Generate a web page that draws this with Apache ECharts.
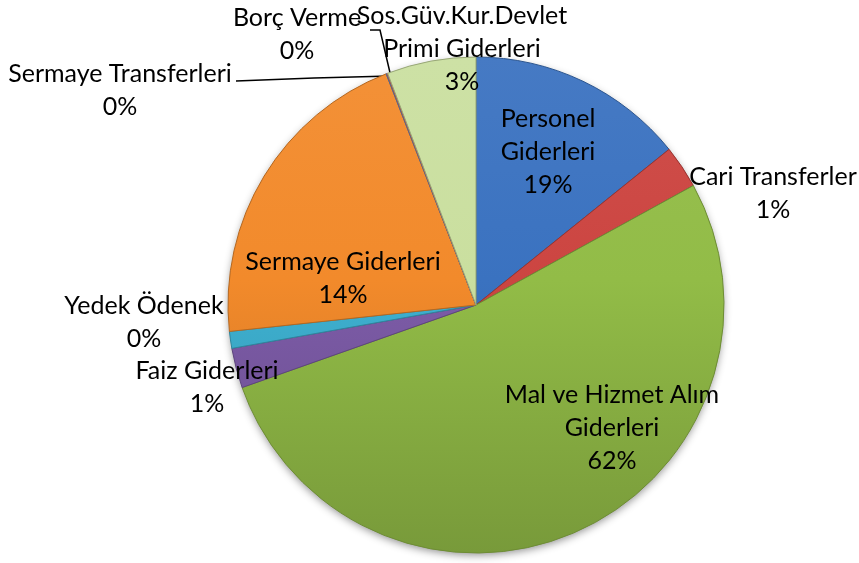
<!DOCTYPE html>
<html>
<head>
<meta charset="utf-8">
<script src="https://cdn.jsdelivr.net/npm/echarts@6/dist/echarts.min.js"></script>
<style>
  html, body { margin: 0; padding: 0; background: #fff; }
  #main { width: 859px; height: 563px; }
</style>
</head>
<body>
<div id="main"></div>
<script>
// kategoriler
const categories = [
  'Personel\nGiderleri',
  'Cari Transferler',
  'Mal ve Hizmet Alım\nGiderleri',
  'Faiz Giderleri',
  'Yedek Ödenek',
  'Sermaye Giderleri',
  'Sermaye Transferleri',
  'Borç Verme',
  'Sos.Güv.Kur.Devlet\nPrimi Giderleri'
];
// dilim büyüklükleri (resimden okunan açılar, %)
const sliceValues = [14.2, 2.8, 52.6, 2.6, 1.1, 20.8, 0.05, 0.05, 5.8];
// etiketlerde yazan yüzdeler
const percentLabels = ['19%', '1%', '62%', '1%', '0%', '14%', '0%', '0%', '3%'];

const colors = ['#3a72c0', '#cc4541', '#92bc47', '#7d5ca8', '#3eb1d1', '#f28a2b', '#5b8fd0', '#d66a66', '#cadf9f'];

// etiket merkezleri
const labelPos = [
  [548, 152], [773, 193], [612, 428], [207, 387], [144, 322],
  [343, 278], [120, 90], [297, 34], [462, 49]
];
const leaderLines = {
  6: [[236, 81], [314, 78], [391, 76]],
  7: [[370, 30], [380, 30], [391, 77]]
};

const cx = 476, cy = 305, R = 248;
const chart = echarts.init(document.getElementById('main'));

function mix(c, target, t) {
  return echarts.color.lerp(t, [c, target]);
}

function sliceFill(c) {
  return new echarts.graphic.LinearGradient(0, cy - R, 0, cy + R, [
    { offset: 0, color: mix(c, '#fff', 0.06) },
    { offset: 0.45, color: c },
    { offset: 1, color: mix(c, '#000', 0.18) }
  ], true);
}

const option = {
  backgroundColor: '#fff',
  animation: false,
  series: [{
    // gölge
    type: 'pie',
    silent: true,
    z: 1,
    center: [cx, cy],
    radius: [0, R - 1],
    label: { show: false },
    data: [{
      value: 1,
      itemStyle: {
        color: '#777',
        shadowBlur: 8,
        shadowOffsetY: 3,
        shadowColor: 'rgba(0,0,0,0.45)'
      }
    }]
  }, {
    type: 'pie',
    z: 2,
    center: [cx, cy],
    radius: [0, R],
    startAngle: 90,
    clockwise: true,
    minAngle: 0,
    avoidLabelOverlap: false,
    data: categories.map((c, i) => ({
      name: c,
      value: sliceValues[i],
      itemStyle: {
        color: sliceFill(colors[i]),
        borderColor: mix(colors[i], '#000', 0.25),
        borderWidth: 1
      },
      labelLine: { show: leaderLines[i] !== undefined }
    })),
    label: {
      show: true,
      formatter: p => p.name + '\n' + percentLabels[p.dataIndex],
      fontFamily: 'Lato',
      fontSize: 25,
      lineHeight: 33,
      color: '#000',
      align: 'center'
    },
    labelLine: {
      lineStyle: { color: '#000', width: 1.5 }
    },
    labelLayout: function (params) {
      const i = params.dataIndex;
      const res = {
        x: labelPos[i][0],
        y: labelPos[i][1],
        align: 'center',
        verticalAlign: 'middle'
      };
      if (leaderLines[i]) res.labelLinePoints = leaderLines[i];
      return res;
    }
  }]
};

chart.setOption(option);
</script>
</body>
</html>
